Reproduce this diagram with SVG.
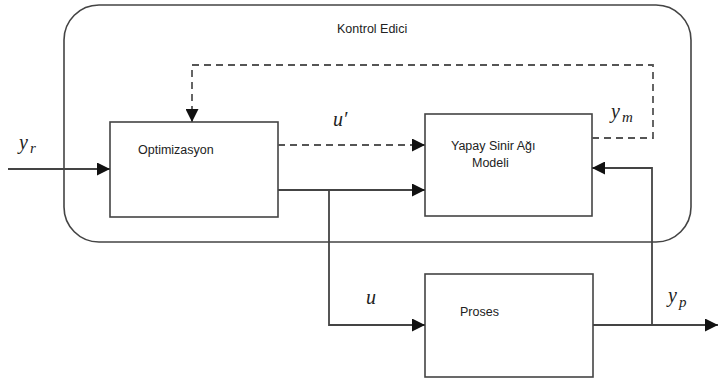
<svg xmlns="http://www.w3.org/2000/svg" width="720" height="383" viewBox="0 0 720 383">
  <style>
    .box { fill: #fff; stroke: #444; stroke-width: 1.6; }
    .frame { fill: none; stroke: #444; stroke-width: 1.6; }
    .wire { fill: none; stroke: #444; stroke-width: 1.8; }
    .dash { fill: none; stroke: #555; stroke-width: 1.8; stroke-dasharray: 7 5; }
    .lbl { font-family: "Liberation Sans", Arial, sans-serif; font-size: 12.5px; fill: #222; }
    .math { font-family: "Liberation Serif", "DejaVu Serif", serif; font-style: italic; font-size: 20px; fill: #222; }
    .sub { font-size: 15px; }
  </style>
  <defs>
    <marker id="arrow" viewBox="0 0 10 10" refX="10" refY="5" markerWidth="21" markerHeight="13" markerUnits="userSpaceOnUse" orient="auto">
      <path d="M0,0 L10,5 L0,10 Z" fill="#111"/>
    </marker>
  </defs>

  <!-- controller frame -->
  <g id="kontrol-edici">
    <rect class="frame" x="64" y="5" width="627" height="237" rx="35" ry="35"/>
    <text class="lbl" x="337" y="33">Kontrol Edici</text>
  </g>

  <g id="optimizasyon">
    <rect class="box" x="110" y="122" width="168" height="95"/>
    <text class="lbl" x="138" y="154">Optimizasyon</text>
  </g>

  <g id="ysa-modeli">
    <rect class="box" x="425" y="114" width="167" height="102"/>
    <text class="lbl" x="451" y="150">Yapay Sinir Ağı</text>
    <text class="lbl" x="472" y="167">Modeli</text>
  </g>

  <g id="proses">
    <rect class="box" x="425" y="274" width="168" height="103"/>
    <text class="lbl" x="460" y="316">Proses</text>
  </g>

  <g id="connectors">
    <!-- reference input -->
    <path class="wire" d="M8,169 H110" marker-end="url(#arrow)"/>
    <!-- predicted output u' -->
    <path class="dash" d="M278,145 H425" marker-end="url(#arrow)"/>
    <!-- model output feedback y_m -->
    <path class="dash" d="M592,138 H653 V65 H192 V122" marker-end="url(#arrow)"/>
    <!-- control signal u to model -->
    <path class="wire" d="M278,190 H425" marker-end="url(#arrow)"/>
    <!-- control signal u to process -->
    <path class="wire" d="M329,190 V325 H425" marker-end="url(#arrow)"/>
    <!-- process output -->
    <path class="wire" d="M593,325 H718" marker-end="url(#arrow)"/>
    <!-- process output fed to model -->
    <path class="wire" d="M652,325 V168 H592" marker-end="url(#arrow)"/>
  </g>

  <g id="labels">
    <text class="math" x="19" y="149">y<tspan class="sub" dx="2" dy="4">r</tspan></text>
    <text class="math" x="333" y="126">u′</text>
    <text class="math" x="611" y="118">y<tspan class="sub" dx="2" dy="4">m</tspan></text>
    <text class="math" x="366" y="304">u</text>
    <text class="math" x="668" y="302">y<tspan class="sub" dx="2" dy="5">p</tspan></text>
  </g>
</svg>
